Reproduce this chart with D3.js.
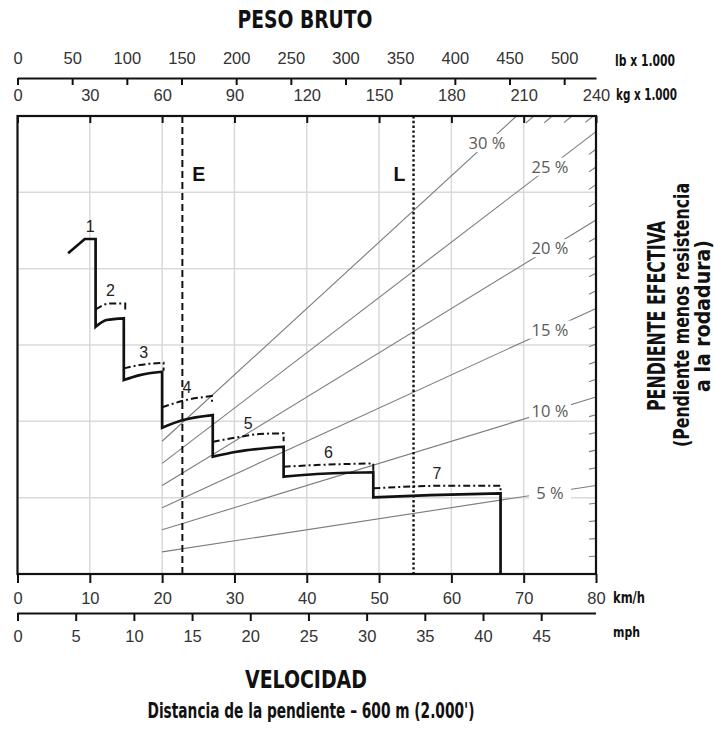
<!DOCTYPE html>
<html><head><meta charset="utf-8">
<script src="https://cdn.jsdelivr.net/npm/d3@7"></script>
<style>
body{margin:0;background:#fff;}
svg{display:block;}
</style></head>
<body><svg id="c" width="714" height="729"></svg>
<script>
// ---------------- data ----------------
const speedTicksKmh = [0,10,20,30,40,50,60,70,80];
const speedTicksMph = [0,5,10,15,20,25,30,35,40,45];
const weightTicksLb = [0,50,100,150,200,250,300,350,400,450,500];
const weightTicksKg = [0,30,60,90,120,150,180,210,240];
const gradeLines = [5,10,15,20,25,30];
const gearLabels = ["1","2","3","4","5","6","7"];
// solid retarder curve per gear: [speed km/h, effective grade % at 240 t]
const solidGear1 = [[7.0,18.12],[9.3,18.93],[10.8,18.93]];
const solidGear2 = [[10.8,13.97],[12.3,14.35],[14.7,14.45]];
const solidGear3 = [[14.7,10.96],[16.9,11.24],[20.0,11.43]];
const solidGear4 = [[20.0,8.27],[22.9,8.70],[27.0,8.98]];
const solidGear5 = [[27.0,6.63],[30.3,6.91],[36.8,7.19]];
const solidGear6 = [[36.8,5.50],[41.4,5.65],[49.2,5.75]];
const solidGear7 = [[49.2,4.33],[57.1,4.46],[66.8,4.56]];
// dash-dot curves per gear (gear 1 has none)
const dashGear2 = [[10.8,14.95],[12.8,15.29],[14.9,15.29]];
const dashGear3 = [[14.7,11.62],[16.9,11.81],[20.2,11.94]];
const dashGear4 = [[20.0,9.42],[22.9,9.79],[26.9,10.06]];
const dashGear5 = [[27.0,7.47],[30.3,7.72],[33.5,7.91],[36.8,7.95]];
const dashGear6 = [[36.8,6.06],[41.4,6.16],[49.2,6.25]];
const dashGear7 = [[49.2,4.84],[59.4,4.99],[66.8,4.99]];
const weightEmpty = 68.4;   // E, kg x 1000
const weightLoaded = 164.3; // L, kg x 1000
const gradeLinesStartKg = 60;

// ---------------- layout ----------------
const L=17.5, R=596, T=116, B=574;
const kmhMax=80, kgMax=240, gradeMax=25.88;
const svg=d3.select('#c');
const x=d3.scaleLinear().domain([0,kmhMax]).range([L,R]);
const xKg=d3.scaleLinear().domain([0,kgMax]).range([L,R]);
const xLb=d3.scaleLinear().domain([0,kgMax/0.45359237]).range([L,R]);
const xMph=d3.scaleLinear().domain([0,kmhMax/1.609344]).range([L,R]);
const y=d3.scaleLinear().domain([0,gradeMax]).range([B,T]);

const tickFont="'Liberation Sans',Arial,sans-serif";
const boldFont="'Liberation Sans Narrow','Arial Narrow','DejaVu Sans Condensed','Liberation Sans',sans-serif";

// gridlines
const grid=svg.append('g').attr('stroke','#dadada').attr('stroke-width',1.5);
grid.selectAll('line.v').data(speedTicksKmh.slice(1,-1)).join('line')
  .attr('x1',d=>x(d)).attr('x2',d=>x(d)).attr('y1',T).attr('y2',B);
grid.selectAll('line.h').data(d3.range(1,6).map(k=>gradeMax*k/6)).join('line')
  .attr('x1',L).attr('x2',R).attr('y1',d=>y(d)).attr('y2',d=>y(d));

// grade lines
const gl=svg.append('g').attr('stroke','#7c7c7c').attr('stroke-width',1.1).attr('fill','none');
gradeLines.forEach(g=>{
  const kgEnd=Math.min(kgMax,kgMax*gradeMax/g);
  gl.append('line').attr('x1',xKg(gradeLinesStartKg)).attr('y1',y(g*gradeLinesStartKg/kgMax))
    .attr('x2',xKg(kgEnd)).attr('y2',y(g*kgEnd/kgMax));
});
// 1 % marks near border
d3.range(1,30).filter(g=>!gradeLines.includes(g)).forEach(g=>{
  let kgEnd, kgStart;
  if(g<=gradeMax){ kgEnd=kgMax; kgStart=xKg.invert(R-7); }
  else { kgEnd=kgMax*gradeMax/g; kgStart=xKg.invert(xKg(kgEnd)-8); }
  gl.append('line').attr('x1',xKg(kgStart)).attr('y1',y(g*kgStart/kgMax))
    .attr('x2',xKg(kgEnd)).attr('y2',y(g*kgEnd/kgMax));
});
// grade labels with white knockout
const glab=svg.append('g');
gradeLines.forEach(g=>{
  const kgL = g===30 ? xKg.invert(487) : xKg.invert(550);
  const cx=xKg(kgL), cy=y(g*kgL/kgMax);
  glab.append('rect').attr('x',cx-21).attr('y',cy-9).attr('width',42).attr('height',18).attr('fill','#fff');
  glab.append('text').attr('x',cx).attr('y',cy+6).attr('text-anchor','middle')
    .attr('font-family',"'Open Sans','Noto Sans',sans-serif").attr('font-size',16.5).attr('fill','#5a5a5a')
    .text(g+' %');
});

// E and L lines
svg.append('line').attr('x1',xKg(weightEmpty)).attr('x2',xKg(weightEmpty)).attr('y1',T).attr('y2',B)
  .attr('stroke','#111').attr('stroke-width',2).attr('stroke-dasharray','7,4');
svg.append('line').attr('x1',xKg(weightLoaded)).attr('x2',xKg(weightLoaded)).attr('y1',T).attr('y2',B)
  .attr('stroke','#111').attr('stroke-width',2.4).attr('stroke-dasharray','2.4,2.4');
svg.append('text').attr('x',xKg(weightEmpty)+10).attr('y',181).attr('font-family',tickFont)
  .attr('font-weight','bold').attr('font-size',19.5).attr('fill','#111').text('E');
svg.append('text').attr('x',xKg(weightLoaded)-8).attr('y',181).attr('text-anchor','end').attr('font-family',tickFont)
  .attr('font-weight','bold').attr('font-size',19.5).attr('fill','#111').text('L');

// curves
const solid=[solidGear1,solidGear2,solidGear3,solidGear4,solidGear5,solidGear6,solidGear7];
const dash=[null,dashGear2,dashGear3,dashGear4,dashGear5,dashGear6,dashGear7];
const line=d3.line().x(d=>x(d[0])).y(d=>y(d[1])).curve(d3.curveMonotoneX);
const lineStraight=d3.line().x(d=>x(d[0])).y(d=>y(d[1]));
let dSolid=solid.map((g,i)=>{const s=i===0?lineStraight(g):line(g); return i===0?s:'L'+s.slice(1);}).join('');
const last=solid[solid.length-1][solid[solid.length-1].length-1];
dSolid+='L'+x(last[0])+','+y(0);
svg.append('path').attr('d',dSolid).attr('fill','none').attr('stroke','#111').attr('stroke-width',2.7)
  .attr('stroke-linejoin','miter');
dash.forEach(g=>{
  if(!g) return;
  const e=g[g.length-1];
  svg.append('path').attr('d',line(g)+'L'+x(e[0])+','+(y(e[1])+8)).attr('fill','none')
    .attr('stroke','#111').attr('stroke-width',2).attr('stroke-dasharray','7,3,2,3');
});
// gear labels
gearLabels.forEach((lab,i)=>{
  const top=dash[i]||solid[i];
  const lx = i===0 ? (top[top.length-2][0]+top[top.length-1][0])/2 : (top[0][0]+top[top.length-1][0])/2;
  let v=top[0][1];
  for(let k=0;k<top.length-1;k++){ if(lx>=top[k][0]&&lx<=top[k+1][0]){ const t=(lx-top[k][0])/(top[k+1][0]-top[k][0]); v=top[k][1]+t*(top[k+1][1]-top[k][1]); } }
  svg.append('text').attr('x',x(lx)).attr('y',y(v)-7).attr('text-anchor','middle')
    .attr('font-family',tickFont).attr('font-size',16).attr('fill','#222').text(lab);
});

// plot box
svg.append('rect').attr('x',L).attr('y',T).attr('width',R-L).attr('height',B-T)
  .attr('fill','none').attr('stroke','#111').attr('stroke-width',2.2);

// axes
function style(g){
  g.selectAll('.domain').attr('stroke','#111').attr('stroke-width',2);
  g.selectAll('.tick line').attr('stroke','#111').attr('stroke-width',2);
  g.selectAll('.tick text').attr('font-family',tickFont).attr('font-size',16.5).attr('fill','#333');
}
const lbAx=svg.append('g').attr('transform',`translate(0,78)`)
  .call(d3.axisTop(xLb).tickValues(weightTicksLb).tickSizeInner(-7).tickSizeOuter(0).tickPadding(14));
style(lbAx);
const kgAx=svg.append('g').attr('transform',`translate(0,${T})`)
  .call(d3.axisTop(xKg).tickValues(weightTicksKg).tickSizeInner(-7).tickSizeOuter(0).tickPadding(15.5));
style(kgAx); kgAx.select('.domain').remove();
const kmhAx=svg.append('g').attr('transform',`translate(0,${B})`)
  .call(d3.axisBottom(x).tickValues(speedTicksKmh).tickSizeInner(9).tickSizeOuter(0));
style(kmhAx); kmhAx.select('.domain').remove();
kmhAx.selectAll('.tick text').attr('y',29.5).attr('dy',0);
const mphAx=svg.append('g').attr('transform',`translate(0,613)`)
  .call(d3.axisBottom(xMph).tickValues(speedTicksMph).tickSizeInner(8).tickSizeOuter(0));
style(mphAx);
mphAx.select('.domain').attr('d',`M${L},0.5H${R}`);
mphAx.selectAll('.tick text').attr('y',28.5).attr('dy',0);

// titles / unit labels
function btxt(t,xx,yy,size,len,anchor,rot){
  const el=svg.append('text').attr('font-family',boldFont).attr('font-weight','bold')
    .attr('font-size',size).attr('fill','#111').attr('text-anchor',anchor||'start')
    .attr('textLength',len).attr('lengthAdjust','spacingAndGlyphs').text(t);
  if(rot){ el.attr('transform',`translate(${xx},${yy}) rotate(-90)`); }
  else { el.attr('x',xx).attr('y',yy); }
  return el;
}
btxt('PESO BRUTO',305,28,24,135,'middle');
btxt('lb x 1.000',615,66,16,60);
btxt('kg x 1.000',616,100,16,61);
btxt('km/h',613,603,15,32);
btxt('mph',613,637,14,27);
btxt('VELOCIDAD',306,688,24,122,'middle');
btxt("Distancia de la pendiente – 600 m (2.000')",311,718,21,327,'middle');
btxt('PENDIENTE EFECTIVA',665,316,25,190,'middle',true);
btxt('(Pendiente menos resistencia',689,315,21,264,'middle',true);
btxt('a la rodadura)',710,316,21,152,'middle',true);
</script>
</body></html>
